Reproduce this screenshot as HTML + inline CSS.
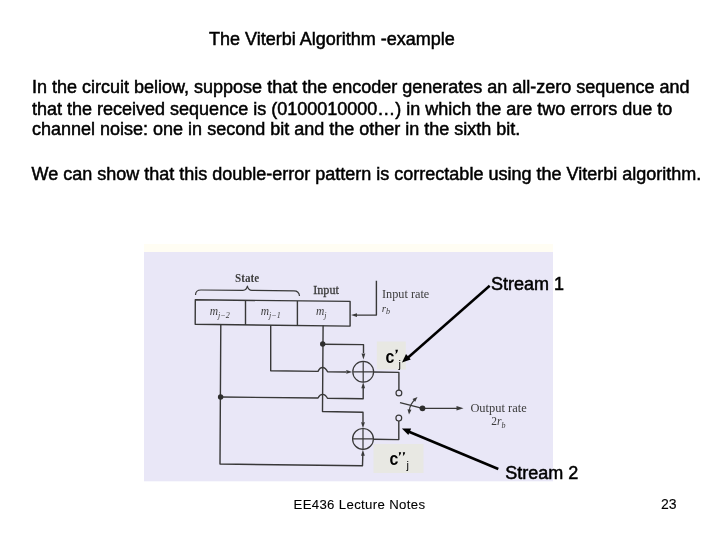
<!DOCTYPE html>
<html><head><meta charset="utf-8">
<style>
html,body{margin:0;padding:0;background:#fff;width:720px;height:540px;overflow:hidden}
svg{display:block;will-change:transform}
.s{font-family:"Liberation Sans",sans-serif;fill:#000}
.b{stroke:#000;stroke-width:0.5}
.r{font-family:"Liberation Serif",serif;fill:#3c3c3c}
</style></head><body>
<svg width="720" height="540" viewBox="0 0 720 540">
<text class="s b" x="209" y="44.8" font-size="18">The Viterbi Algorithm -example</text>
<text class="s b" x="32" y="92.8" font-size="18">In the circuit beliow, suppose that the encoder generates an all-zero sequence and</text>
<text class="s b" x="32" y="114.8" font-size="18">that the received sequence is (0100010000…) in which the are two errors due to</text>
<text class="s b" x="32" y="135.2" font-size="18">channel noise: one in second bit and the other in the sixth bit.</text>
<text class="s b" x="31.5" y="180" font-size="18">We can show that this double-error pattern is correctable using the Viterbi algorithm.</text>
<rect x="144" y="244" width="409" height="8" fill="#fffdf3"/>
<rect x="144" y="252" width="409" height="229.3" fill="#e9e7f7"/>

<g stroke="#383838" stroke-width="1.4" fill="none" stroke-linejoin="round">
<path d="M195.5,295 Q195.5,290 201,290 L243,290.3 Q246.5,290.3 247.4,286.2 Q248.3,290.4 252,290.4 L294,290.8 Q299,290.8 299.5,296" stroke-width="1.2"/>
<path d="M195.3,299.8 L350.1,301.4 L350.1,326.1 L195.2,324.3 Z"/>
<path d="M245.5,300.3 L245.5,324.9 M297.4,300.9 L297.4,325.5"/>
<path d="M376.4,280.7 L376.4,315.1 L356,315.1"/>
<path d="M351.00,315.10 L357.00,313.20 L357.00,317.00 Z" fill="#3a3a3a" stroke="none"/>
<path d="M220.8,324.3 L220,464 L362.5,465.8 L362.8,455"/>
<path d="M362.90,449.80 L364.80,455.80 L361.00,455.80 Z" fill="#3a3a3a" stroke="none"/>
<path d="M220.5,397 L318,398 Q319.8,394.4 322.6,394.4 Q325.5,394.4 327.5,398.3 L363.2,398.8 L363.2,388"/>
<path d="M363.20,382.30 L365.10,388.30 L361.30,388.30 Z" fill="#3a3a3a" stroke="none"/>
<path d="M270.7,325 L270.7,370.8 L318,371.4 Q319.8,367.5 322.6,367.5 Q325.5,367.5 327.6,371.8 L346,372"/>
<path d="M352.30,371.90 L346.30,373.80 L346.30,370.00 Z" fill="#3a3a3a" stroke="none"/>
<path d="M323.1,325.5 L322.5,411.5 L363,412.2 L363,422.5"/>
<path d="M363.00,428.30 L361.10,422.30 L364.90,422.30 Z" fill="#3a3a3a" stroke="none"/>
<path d="M322.8,344.3 L363.5,344.6 L363.5,353"/>
<path d="M363.40,359.50 L361.50,353.50 L365.30,353.50 Z" fill="#3a3a3a" stroke="none"/>
<circle cx="363.2" cy="371.8" r="10.4" stroke-width="1.2"/>
<path d="M352.8,371.8 H373.6 M363.2,361.4 V382.2" stroke-width="1.2"/>
<circle cx="363" cy="438.9" r="10.4" stroke-width="1.2"/>
<path d="M352.6,438.9 H373.4 M363,428.5 V449.3" stroke-width="1.2"/>
<path d="M373.6,372 L398.9,372.4 L398.9,390"/>
<circle cx="398.9" cy="393" r="2.9" stroke-width="1.2"/>
<path d="M373.4,439.2 L398.8,439.6 L398.8,421"/>
<circle cx="398.8" cy="418.1" r="2.9" stroke-width="1.2"/>
<path d="M400,402.6 L422.5,408.3" stroke-width="1.3"/>
<path d="M422.5,408.3 L458,408.3" stroke-width="1.2"/>
<path d="M415.5,399 Q410,404 409.3,410.5" stroke-width="1.1"/>
</g>
<path d="M463.50,408.30 L456.50,410.50 L456.50,406.10 Z" fill="#3a3a3a" stroke="none"/>
<path d="M417.50,397.00 L415.18,401.86 L412.47,398.92 Z" fill="#3a3a3a" stroke="none"/>
<path d="M409.00,414.50 L407.47,409.34 L411.45,409.71 Z" fill="#3a3a3a" stroke="none"/>
<g fill="#2e2e2e"><circle cx="322.7" cy="344" r="2.7"/><circle cx="220.6" cy="397" r="2.7"/><circle cx="422.5" cy="408.3" r="2.9"/></g>
<text class="r" x="235.1" y="281.7" font-size="12" font-weight="bold" textLength="24" lengthAdjust="spacingAndGlyphs">State</text>
<text class="r" x="313.2" y="294.3" font-size="12" textLength="25.7" lengthAdjust="spacingAndGlyphs" stroke="#3c3c3c" stroke-width="0.3">Input</text>
<text class="r" x="382" y="298.2" font-size="12.2" textLength="47.3" lengthAdjust="spacingAndGlyphs">Input rate</text>
<text class="r" x="381.7" y="311.5" font-size="11" font-style="italic">r<tspan font-size="8" dy="2">b</tspan></text>
<text class="r" x="209.8" y="314.6" font-size="11.5" font-style="italic">m<tspan font-size="8" dy="3">j−2</tspan></text>
<text class="r" x="260.8" y="315.3" font-size="11.5" font-style="italic">m<tspan font-size="8" dy="3">j−1</tspan></text>
<text class="r" x="316" y="315.3" font-size="11.5" font-style="italic">m<tspan font-size="8" dy="3">j</tspan></text>
<text class="r" x="470.4" y="411.7" font-size="12.4" textLength="56.3" lengthAdjust="spacingAndGlyphs">Output rate</text>
<text class="r" x="491.2" y="424.9" font-size="11.5">2<tspan font-style="italic">r</tspan><tspan font-style="italic" font-size="8" dy="3">b</tspan></text>
<rect x="376.8" y="341.5" width="29" height="28" fill="#e8e8e3"/>
<rect x="373.5" y="444" width="50" height="29" fill="#e8e8e3"/>
<text class="s" transform="translate(385.6,363) scale(0.86,1)" x="0" y="0" font-size="18.5" font-weight="bold">c</text>
<path d="M395.4,349.8 L398,349.8 L397.3,352.2 L395.4,354.6 L395.9,352.2 Z" fill="#000"/>
<text class="s" x="398.5" y="367.5" font-size="11" stroke-width="0">j</text>
<text class="s" transform="translate(389.6,465) scale(0.86,1)" x="0" y="0" font-size="18.5" font-weight="bold">c</text>
<path d="M398.8,452.3 L401.2,452.3 L400.6,454.2 L398.8,456.2 L399.2,454.2 Z M402.8,452.3 L405.2,452.3 L404.6,454.2 L402.8,456.2 L403.2,454.2 Z" fill="#000"/>
<text class="s" x="406.5" y="469" font-size="11" stroke-width="0">j</text>
<text class="s b" x="491" y="290" font-size="18">Stream 1</text>
<text class="s b" x="505.3" y="478.6" font-size="18">Stream 2</text>
<g stroke="#000" stroke-width="2.5" fill="none"><path d="M489.7,285.8 L407,358.5"/><path d="M498.3,469 L406,430.5"/></g>
<path d="M402.00,362.40 L406.03,354.10 L410.77,359.52 Z" fill="#000" stroke="none"/>
<path d="M401.90,428.50 L411.13,428.47 L408.34,435.11 Z" fill="#000" stroke="none"/>
<text class="s" x="293.5" y="508.8" font-size="13.2" stroke="#000" stroke-width="0.1" textLength="131.5" lengthAdjust="spacing">EE436 Lecture Notes</text>
<text class="s" x="661" y="508.9" font-size="14" stroke="#000" stroke-width="0.1">23</text>
</svg>
</body></html>
